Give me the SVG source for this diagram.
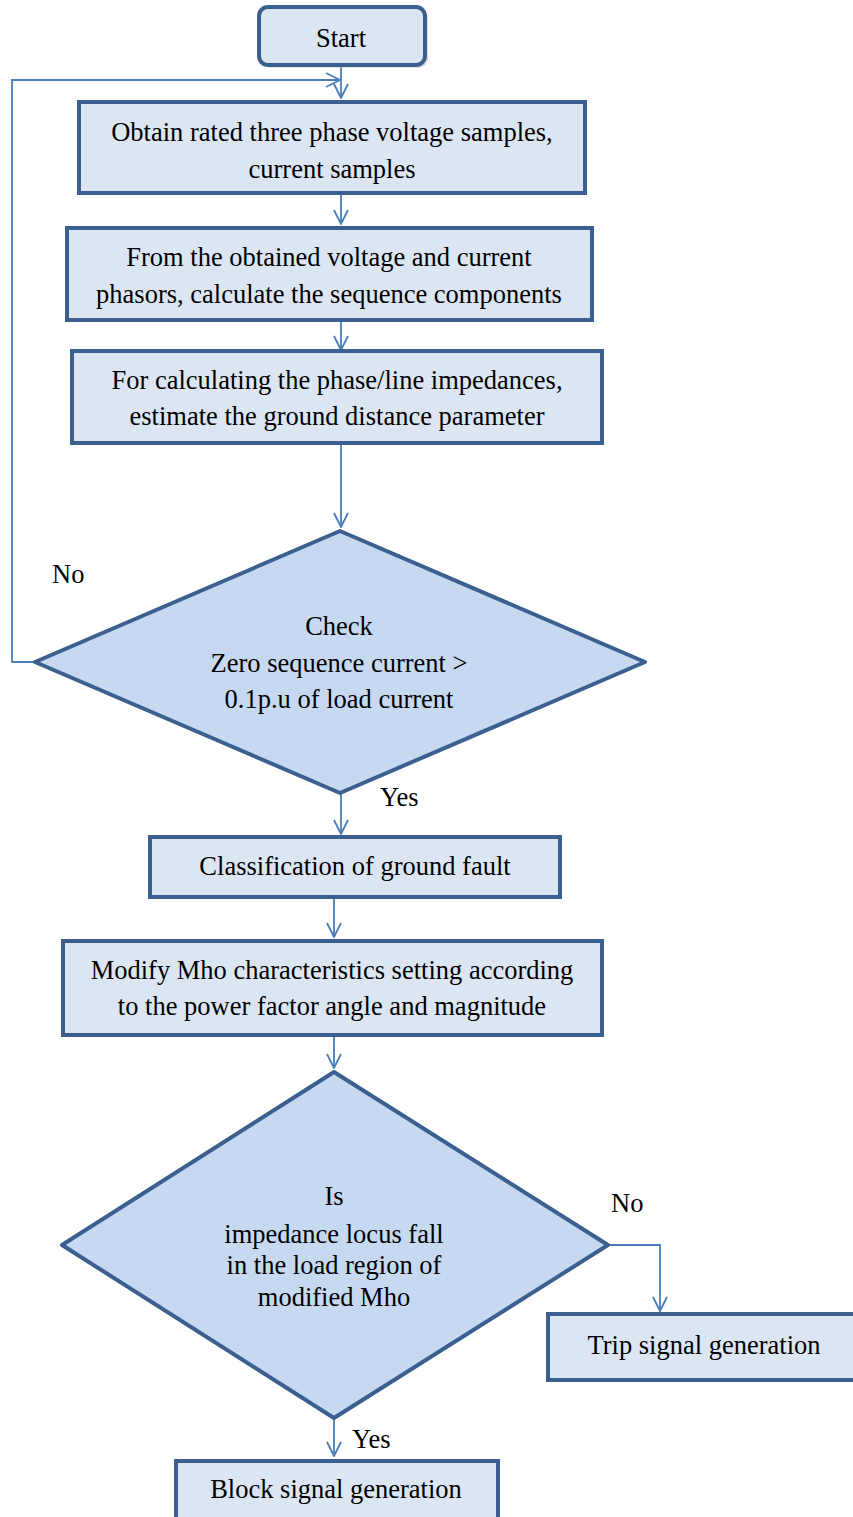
<svg xmlns="http://www.w3.org/2000/svg" width="853" height="1517" viewBox="0 0 853 1517">
<style>
.box{fill:#dce6f2;stroke:#3b5f8f;stroke-width:4}
.dia{fill:#c6d9f1;stroke:#3b5f8f;stroke-width:4;stroke-linejoin:round}
.con{fill:none;stroke:#4a7ebb;stroke-width:1.8}
text{font-family:"Liberation Serif","Times New Roman",serif;font-size:26.5px;fill:#000;text-anchor:middle;dominant-baseline:central}
.lbl{text-anchor:start}
</style>
<defs>
<marker id="arr" viewBox="0 0 16 16" refX="15" refY="8" markerWidth="16" markerHeight="16" markerUnits="userSpaceOnUse" orient="auto">
<path d="M1,1 L15,8 L1,15" fill="none" stroke="#4a7ebb" stroke-width="1.8"/>
</marker>
</defs>
<rect width="853" height="1517" fill="#fff"/>
<g id="connectors">
<path class="con" d="M341,65 V98" marker-end="url(#arr)"/>
<path class="con" d="M35,662 H12 V80 H340" marker-end="url(#arr)"/>
<path class="con" d="M341,193 V224" marker-end="url(#arr)"/>
<path class="con" d="M341,320 V350" marker-end="url(#arr)"/>
<path class="con" d="M341,443 V527" marker-end="url(#arr)"/>
<path class="con" d="M341,793 V834" marker-end="url(#arr)"/>
<path class="con" d="M334,897 V937" marker-end="url(#arr)"/>
<path class="con" d="M334,1035 V1068" marker-end="url(#arr)"/>
<path class="con" d="M608,1245 H660 V1311" marker-end="url(#arr)"/>
<path class="con" d="M334,1418 V1456" marker-end="url(#arr)"/>
<text class="lbl" x="52" y="574">No</text>
<text class="lbl" x="380" y="797">Yes</text>
<text class="lbl" x="611" y="1203">No</text>
<text class="lbl" x="352" y="1439">Yes</text>
</g>
<g id="start">
<rect x="262" y="10" width="166" height="58" rx="9" fill="#c8c8c8" opacity="0.6"/>
<rect x="259" y="7" width="166" height="58" rx="9" class="box"/>
<text x="341" y="38">Start</text>
</g>
<g id="obtain">
<rect x="79" y="102" width="506" height="91" class="box"/>
<text x="332" y="132">Obtain rated three phase voltage samples,</text>
<text x="332" y="169">current samples</text>
</g>
<g id="sequence">
<rect x="67" y="228" width="525" height="92" class="box"/>
<text x="329" y="257">From the obtained voltage and current</text>
<text x="329" y="294">phasors, calculate the sequence components</text>
</g>
<g id="impedance">
<rect x="72" y="351" width="530" height="92" class="box"/>
<text x="337" y="380">For calculating the phase/line impedances,</text>
<text x="337" y="416">estimate the ground distance parameter</text>
</g>
<g id="check">
<polygon points="340,531 645,662 340,793 35,662" class="dia"/>
<text x="339" y="626">Check</text>
<text x="339" y="663">Zero sequence current &gt;</text>
<text x="339" y="699">0.1p.u of load current</text>
</g>
<g id="classify">
<rect x="150" y="837" width="410" height="60" class="box"/>
<text x="355" y="866">Classification of ground fault</text>
</g>
<g id="modify">
<rect x="63" y="941" width="539" height="94" class="box"/>
<text x="332" y="970">Modify Mho characteristics setting according</text>
<text x="332" y="1006">to the power factor angle and magnitude</text>
</g>
<g id="locus">
<polygon points="334,1072 608,1245 334,1418 62,1245" class="dia"/>
<text x="334" y="1196">Is</text>
<text x="334" y="1234">impedance locus fall</text>
<text x="334" y="1265">in the load region of</text>
<text x="334" y="1297">modified Mho</text>
</g>
<g id="trip">
<rect x="548" y="1314" width="310" height="66" class="box"/>
<text x="704" y="1345">Trip signal generation</text>
</g>
<g id="block">
<rect x="176" y="1461" width="322" height="70" class="box"/>
<text x="336" y="1489">Block signal generation</text>
</g>
</svg>
